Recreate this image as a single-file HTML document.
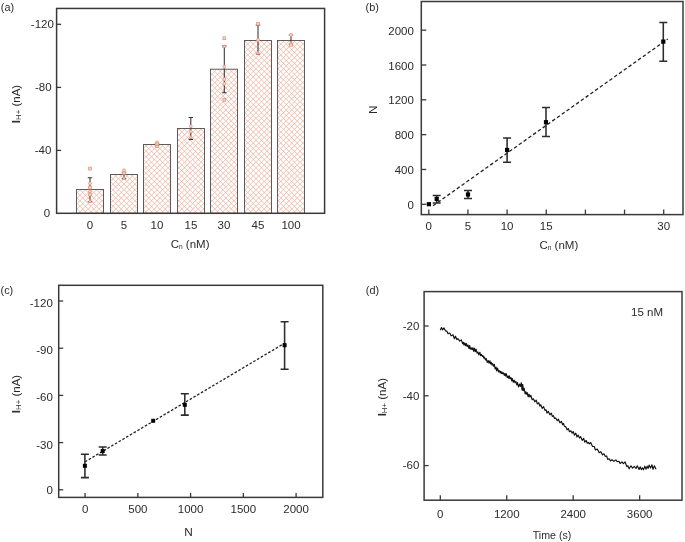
<!DOCTYPE html>
<html><head><meta charset="utf-8"><style>
html,body{margin:0;padding:0;background:#fff;}
body{width:685px;height:542px;overflow:hidden;font-family:"Liberation Sans",sans-serif;}
svg{display:block;will-change:transform;}
</style></head><body>
<svg width="685" height="542" viewBox="0 0 685 542">
<defs>
</defs>
<rect width="685" height="542" fill="#fff"/>
<g font-family="'Liberation Sans', sans-serif" fill="#2b2b2b">
<text x="0.80" y="11.20" text-anchor="start" font-size="10.9" >(a)</text>
<clipPath id="bc"><rect x="76.50" y="189.5" width="27" height="23.80"/><rect x="110.50" y="174.5" width="27" height="38.80"/><rect x="143.50" y="144.5" width="27" height="68.80"/><rect x="177.50" y="128.5" width="27" height="84.80"/><rect x="210.50" y="69.2" width="27" height="144.10"/><rect x="244.50" y="40.5" width="27" height="172.80"/><rect x="277.50" y="40.5" width="27" height="172.80"/></clipPath>
<path clip-path="url(#bc)" d="M-164.75 0L55.25 220M-164.75 0L-384.75 220M-159.25 0L60.75 220M-159.25 0L-379.25 220M-153.75 0L66.25 220M-153.75 0L-373.75 220M-148.25 0L71.75 220M-148.25 0L-368.25 220M-142.75 0L77.25 220M-142.75 0L-362.75 220M-137.25 0L82.75 220M-137.25 0L-357.25 220M-131.75 0L88.25 220M-131.75 0L-351.75 220M-126.25 0L93.75 220M-126.25 0L-346.25 220M-120.75 0L99.25 220M-120.75 0L-340.75 220M-115.25 0L104.75 220M-115.25 0L-335.25 220M-109.75 0L110.25 220M-109.75 0L-329.75 220M-104.25 0L115.75 220M-104.25 0L-324.25 220M-98.75 0L121.25 220M-98.75 0L-318.75 220M-93.25 0L126.75 220M-93.25 0L-313.25 220M-87.75 0L132.25 220M-87.75 0L-307.75 220M-82.25 0L137.75 220M-82.25 0L-302.25 220M-76.75 0L143.25 220M-76.75 0L-296.75 220M-71.25 0L148.75 220M-71.25 0L-291.25 220M-65.75 0L154.25 220M-65.75 0L-285.75 220M-60.25 0L159.75 220M-60.25 0L-280.25 220M-54.75 0L165.25 220M-54.75 0L-274.75 220M-49.25 0L170.75 220M-49.25 0L-269.25 220M-43.75 0L176.25 220M-43.75 0L-263.75 220M-38.25 0L181.75 220M-38.25 0L-258.25 220M-32.75 0L187.25 220M-32.75 0L-252.75 220M-27.25 0L192.75 220M-27.25 0L-247.25 220M-21.75 0L198.25 220M-21.75 0L-241.75 220M-16.25 0L203.75 220M-16.25 0L-236.25 220M-10.75 0L209.25 220M-10.75 0L-230.75 220M-5.25 0L214.75 220M-5.25 0L-225.25 220M0.25 0L220.25 220M0.25 0L-219.75 220M5.75 0L225.75 220M5.75 0L-214.25 220M11.25 0L231.25 220M11.25 0L-208.75 220M16.75 0L236.75 220M16.75 0L-203.25 220M22.25 0L242.25 220M22.25 0L-197.75 220M27.75 0L247.75 220M27.75 0L-192.25 220M33.25 0L253.25 220M33.25 0L-186.75 220M38.75 0L258.75 220M38.75 0L-181.25 220M44.25 0L264.25 220M44.25 0L-175.75 220M49.75 0L269.75 220M49.75 0L-170.25 220M55.25 0L275.25 220M55.25 0L-164.75 220M60.75 0L280.75 220M60.75 0L-159.25 220M66.25 0L286.25 220M66.25 0L-153.75 220M71.75 0L291.75 220M71.75 0L-148.25 220M77.25 0L297.25 220M77.25 0L-142.75 220M82.75 0L302.75 220M82.75 0L-137.25 220M88.25 0L308.25 220M88.25 0L-131.75 220M93.75 0L313.75 220M93.75 0L-126.25 220M99.25 0L319.25 220M99.25 0L-120.75 220M104.75 0L324.75 220M104.75 0L-115.25 220M110.25 0L330.25 220M110.25 0L-109.75 220M115.75 0L335.75 220M115.75 0L-104.25 220M121.25 0L341.25 220M121.25 0L-98.75 220M126.75 0L346.75 220M126.75 0L-93.25 220M132.25 0L352.25 220M132.25 0L-87.75 220M137.75 0L357.75 220M137.75 0L-82.25 220M143.25 0L363.25 220M143.25 0L-76.75 220M148.75 0L368.75 220M148.75 0L-71.25 220M154.25 0L374.25 220M154.25 0L-65.75 220M159.75 0L379.75 220M159.75 0L-60.25 220M165.25 0L385.25 220M165.25 0L-54.75 220M170.75 0L390.75 220M170.75 0L-49.25 220M176.25 0L396.25 220M176.25 0L-43.75 220M181.75 0L401.75 220M181.75 0L-38.25 220M187.25 0L407.25 220M187.25 0L-32.75 220M192.75 0L412.75 220M192.75 0L-27.25 220M198.25 0L418.25 220M198.25 0L-21.75 220M203.75 0L423.75 220M203.75 0L-16.25 220M209.25 0L429.25 220M209.25 0L-10.75 220M214.75 0L434.75 220M214.75 0L-5.25 220M220.25 0L440.25 220M220.25 0L0.25 220M225.75 0L445.75 220M225.75 0L5.75 220M231.25 0L451.25 220M231.25 0L11.25 220M236.75 0L456.75 220M236.75 0L16.75 220M242.25 0L462.25 220M242.25 0L22.25 220M247.75 0L467.75 220M247.75 0L27.75 220M253.25 0L473.25 220M253.25 0L33.25 220M258.75 0L478.75 220M258.75 0L38.75 220M264.25 0L484.25 220M264.25 0L44.25 220M269.75 0L489.75 220M269.75 0L49.75 220M275.25 0L495.25 220M275.25 0L55.25 220M280.75 0L500.75 220M280.75 0L60.75 220M286.25 0L506.25 220M286.25 0L66.25 220M291.75 0L511.75 220M291.75 0L71.75 220M297.25 0L517.25 220M297.25 0L77.25 220M302.75 0L522.75 220M302.75 0L82.75 220M308.25 0L528.25 220M308.25 0L88.25 220M313.75 0L533.75 220M313.75 0L93.75 220M319.25 0L539.25 220M319.25 0L99.25 220M324.75 0L544.75 220M324.75 0L104.75 220M330.25 0L550.25 220M330.25 0L110.25 220M335.75 0L555.75 220M335.75 0L115.75 220M341.25 0L561.25 220M341.25 0L121.25 220M346.75 0L566.75 220M346.75 0L126.75 220M352.25 0L572.25 220M352.25 0L132.25 220M357.75 0L577.75 220M357.75 0L137.75 220M363.25 0L583.25 220M363.25 0L143.25 220M368.75 0L588.75 220M368.75 0L148.75 220M374.25 0L594.25 220M374.25 0L154.25 220M379.75 0L599.75 220M379.75 0L159.75 220M385.25 0L605.25 220M385.25 0L165.25 220M390.75 0L610.75 220M390.75 0L170.75 220M396.25 0L616.25 220M396.25 0L176.25 220M401.75 0L621.75 220M401.75 0L181.75 220M407.25 0L627.25 220M407.25 0L187.25 220M412.75 0L632.75 220M412.75 0L192.75 220M418.25 0L638.25 220M418.25 0L198.25 220M423.75 0L643.75 220M423.75 0L203.75 220M429.25 0L649.25 220M429.25 0L209.25 220M434.75 0L654.75 220M434.75 0L214.75 220M440.25 0L660.25 220M440.25 0L220.25 220M445.75 0L665.75 220M445.75 0L225.75 220M451.25 0L671.25 220M451.25 0L231.25 220M456.75 0L676.75 220M456.75 0L236.75 220M462.25 0L682.25 220M462.25 0L242.25 220M467.75 0L687.75 220M467.75 0L247.75 220M473.25 0L693.25 220M473.25 0L253.25 220M478.75 0L698.75 220M478.75 0L258.75 220M484.25 0L704.25 220M484.25 0L264.25 220M489.75 0L709.75 220M489.75 0L269.75 220M495.25 0L715.25 220M495.25 0L275.25 220M500.75 0L720.75 220M500.75 0L280.75 220M506.25 0L726.25 220M506.25 0L286.25 220M511.75 0L731.75 220M511.75 0L291.75 220M517.25 0L737.25 220M517.25 0L297.25 220M522.75 0L742.75 220M522.75 0L302.75 220M528.25 0L748.25 220M528.25 0L308.25 220M533.75 0L753.75 220M533.75 0L313.75 220M539.25 0L759.25 220M539.25 0L319.25 220M544.75 0L764.75 220M544.75 0L324.75 220" stroke="#ecb6a3" stroke-width="0.85" fill="none"/>
<rect x="76.50" y="189.5" width="27" height="23.80" fill="none" stroke="#575354" stroke-width="0.95"/>
<rect x="110.50" y="174.5" width="27" height="38.80" fill="none" stroke="#575354" stroke-width="0.95"/>
<rect x="143.50" y="144.5" width="27" height="68.80" fill="none" stroke="#575354" stroke-width="0.95"/>
<rect x="177.50" y="128.5" width="27" height="84.80" fill="none" stroke="#575354" stroke-width="0.95"/>
<rect x="210.50" y="69.2" width="27" height="144.10" fill="none" stroke="#575354" stroke-width="0.95"/>
<rect x="244.50" y="40.5" width="27" height="172.80" fill="none" stroke="#575354" stroke-width="0.95"/>
<rect x="277.50" y="40.5" width="27" height="172.80" fill="none" stroke="#575354" stroke-width="0.95"/>
<path d="M90.00 177.80V201.60M87.80 177.80H92.20M87.80 201.60H92.20" stroke="#333333" stroke-width="1.05" fill="none"/>
<path d="M124.00 172.50V178.60M121.80 172.50H126.20M121.80 178.60H126.20" stroke="#333333" stroke-width="1.05" fill="none"/>
<path d="M157.00 143.20V145.80M154.80 143.20H159.20M154.80 145.80H159.20" stroke="#333333" stroke-width="1.05" fill="none"/>
<path d="M190.80 117.50V139.40M188.60 117.50H193.00M188.60 139.40H193.00" stroke="#333333" stroke-width="1.05" fill="none"/>
<path d="M224.30 46.00V92.70M222.10 46.00H226.50M222.10 92.70H226.50" stroke="#333333" stroke-width="1.05" fill="none"/>
<path d="M258.00 25.10V53.90M255.80 25.10H260.20M255.80 53.90H260.20" stroke="#333333" stroke-width="1.05" fill="none"/>
<path d="M291.00 34.90V44.10M288.80 34.90H293.20M288.80 44.10H293.20" stroke="#333333" stroke-width="1.05" fill="none"/>
<rect x="88.60" y="167.20" width="2.8" height="2.8" fill="#f6d3c6" stroke="#e59a82" stroke-width="0.8"/>
<circle cx="90.00" cy="183.50" r="1.5" fill="#f6d3c6" stroke="#e59a82" stroke-width="0.8"/>
<rect x="88.60" y="186.20" width="2.8" height="2.8" fill="#f6d3c6" stroke="#e59a82" stroke-width="0.8"/>
<circle cx="90.00" cy="191.50" r="1.5" fill="#f6d3c6" stroke="#e59a82" stroke-width="0.8"/>
<rect x="88.60" y="193.10" width="2.8" height="2.8" fill="#f6d3c6" stroke="#e59a82" stroke-width="0.8"/>
<path d="M88.30 202.30L91.70 202.30L90.00 199.40Z" fill="#f6d3c6" stroke="#e59a82" stroke-width="0.8"/>
<circle cx="124.00" cy="170.30" r="1.5" fill="#f6d3c6" stroke="#e59a82" stroke-width="0.8"/>
<rect x="122.60" y="171.40" width="2.8" height="2.8" fill="#f6d3c6" stroke="#e59a82" stroke-width="0.8"/>
<path d="M122.30 179.50L125.70 179.50L124.00 176.60Z" fill="#f6d3c6" stroke="#e59a82" stroke-width="0.8"/>
<circle cx="157.00" cy="142.40" r="1.5" fill="#f6d3c6" stroke="#e59a82" stroke-width="0.8"/>
<rect x="155.60" y="143.00" width="2.8" height="2.8" fill="#f6d3c6" stroke="#e59a82" stroke-width="0.8"/>
<path d="M155.30 147.50L158.70 147.50L157.00 144.60Z" fill="#f6d3c6" stroke="#e59a82" stroke-width="0.8"/>
<circle cx="190.80" cy="126.30" r="1.5" fill="#f6d3c6" stroke="#e59a82" stroke-width="0.8"/>
<circle cx="190.80" cy="131.50" r="1.5" fill="#f6d3c6" stroke="#e59a82" stroke-width="0.8"/>
<path d="M189.10 138.30L192.50 138.30L190.80 135.40Z" fill="#f6d3c6" stroke="#e59a82" stroke-width="0.8"/>
<rect x="222.90" y="36.80" width="2.8" height="2.8" fill="#f6d3c6" stroke="#e59a82" stroke-width="0.8"/>
<path d="M222.60 47.60L226.00 47.60L224.30 44.70Z" fill="#f6d3c6" stroke="#e59a82" stroke-width="0.8"/>
<circle cx="224.30" cy="66.70" r="1.5" fill="#f6d3c6" stroke="#e59a82" stroke-width="0.8"/>
<circle cx="224.30" cy="79.20" r="1.5" fill="#f6d3c6" stroke="#e59a82" stroke-width="0.8"/>
<circle cx="224.30" cy="83.80" r="1.5" fill="#f6d3c6" stroke="#e59a82" stroke-width="0.8"/>
<rect x="222.90" y="98.50" width="2.8" height="2.8" fill="#f6d3c6" stroke="#e59a82" stroke-width="0.8"/>
<rect x="256.60" y="22.40" width="2.8" height="2.8" fill="#f6d3c6" stroke="#e59a82" stroke-width="0.8"/>
<circle cx="258.00" cy="39.90" r="1.5" fill="#f6d3c6" stroke="#e59a82" stroke-width="0.8"/>
<path d="M256.30 53.90L259.70 53.90L258.00 51.00Z" fill="#f6d3c6" stroke="#e59a82" stroke-width="0.8"/>
<circle cx="291.00" cy="34.90" r="1.5" fill="#f6d3c6" stroke="#e59a82" stroke-width="0.8"/>
<path d="M289.30 44.30L292.70 44.30L291.00 41.40Z" fill="#f6d3c6" stroke="#e59a82" stroke-width="0.8"/>
<rect x="289.60" y="43.50" width="2.8" height="2.8" fill="#f6d3c6" stroke="#e59a82" stroke-width="0.8"/>
<rect x="56.6" y="8.45" width="268.00" height="204.85" fill="none" stroke="#3b3839" stroke-width="1.5"/>
<line x1="56.6" y1="24.30" x2="61.1" y2="24.30" stroke="#3b3839" stroke-width="1.3"/>
<line x1="56.6" y1="87.40" x2="61.1" y2="87.40" stroke="#3b3839" stroke-width="1.3"/>
<line x1="56.6" y1="150.40" x2="61.1" y2="150.40" stroke="#3b3839" stroke-width="1.3"/>
<text x="53.90" y="27.90" text-anchor="end" font-size="11.5" >-120</text>
<text x="51.60" y="91.00" text-anchor="end" font-size="11.5" >-80</text>
<text x="51.40" y="154.00" text-anchor="end" font-size="11.5" >-40</text>
<text x="50.10" y="216.90" text-anchor="end" font-size="11.5" >0</text>
<text x="90.00" y="228.90" text-anchor="middle" font-size="11.5" >0</text>
<text x="124.00" y="228.90" text-anchor="middle" font-size="11.5" >5</text>
<text x="157.00" y="228.90" text-anchor="middle" font-size="11.5" >10</text>
<text x="191.00" y="228.90" text-anchor="middle" font-size="11.5" >15</text>
<text x="224.00" y="228.90" text-anchor="middle" font-size="11.5" >30</text>
<text x="258.00" y="228.90" text-anchor="middle" font-size="11.5" >45</text>
<text x="291.00" y="228.90" text-anchor="middle" font-size="11.5" >100</text>
<text transform="translate(15.60,104.00) rotate(-90)" text-anchor="middle" font-size="11.5" y="0" dy="4"><tspan font-weight="bold">I</tspan><tspan font-size="7.8" dy="1.1">H+</tspan><tspan dy="-1.1"> (nA)</tspan></text>
<text x="170.70" y="248.20" font-size="11.5">C<tspan font-size="6.6" dy="0.5">n</tspan><tspan dy="-0.5"> (nM)</tspan></text>
<text x="365.50" y="11.20" text-anchor="start" font-size="10.9" >(b)</text>
<rect x="421.3" y="1.5" width="261.70" height="213.10" fill="none" stroke="#3b3839" stroke-width="1.5"/>
<line x1="421.3" y1="204.30" x2="426.3" y2="204.30" stroke="#3b3839" stroke-width="1.3"/>
<text x="413.90" y="208.90" text-anchor="end" font-size="11.5" >0</text>
<line x1="421.3" y1="169.47" x2="426.3" y2="169.47" stroke="#3b3839" stroke-width="1.3"/>
<text x="413.90" y="174.07" text-anchor="end" font-size="11.5" >400</text>
<line x1="421.3" y1="134.64" x2="426.3" y2="134.64" stroke="#3b3839" stroke-width="1.3"/>
<text x="413.90" y="139.24" text-anchor="end" font-size="11.5" >800</text>
<line x1="421.3" y1="99.81" x2="426.3" y2="99.81" stroke="#3b3839" stroke-width="1.3"/>
<text x="413.90" y="104.41" text-anchor="end" font-size="11.5" >1200</text>
<line x1="421.3" y1="64.98" x2="426.3" y2="64.98" stroke="#3b3839" stroke-width="1.3"/>
<text x="413.90" y="69.58" text-anchor="end" font-size="11.5" >1600</text>
<line x1="421.3" y1="30.15" x2="426.3" y2="30.15" stroke="#3b3839" stroke-width="1.3"/>
<text x="413.90" y="34.75" text-anchor="end" font-size="11.5" >2000</text>
<line x1="428.80" y1="214.6" x2="428.80" y2="209.6" stroke="#3b3839" stroke-width="1.3"/>
<text x="428.80" y="229.50" text-anchor="middle" font-size="11.5" >0</text>
<line x1="467.95" y1="214.6" x2="467.95" y2="209.6" stroke="#3b3839" stroke-width="1.3"/>
<text x="467.95" y="229.50" text-anchor="middle" font-size="11.5" >5</text>
<line x1="507.10" y1="214.6" x2="507.10" y2="209.6" stroke="#3b3839" stroke-width="1.3"/>
<text x="507.10" y="229.50" text-anchor="middle" font-size="11.5" >10</text>
<line x1="546.25" y1="214.6" x2="546.25" y2="209.6" stroke="#3b3839" stroke-width="1.3"/>
<text x="546.25" y="229.50" text-anchor="middle" font-size="11.5" >15</text>
<line x1="585.40" y1="214.6" x2="585.40" y2="209.6" stroke="#3b3839" stroke-width="1.3"/>
<line x1="624.55" y1="214.6" x2="624.55" y2="209.6" stroke="#3b3839" stroke-width="1.3"/>
<line x1="663.70" y1="214.6" x2="663.70" y2="209.6" stroke="#3b3839" stroke-width="1.3"/>
<text x="663.70" y="229.50" text-anchor="middle" font-size="11.5" >30</text>
<text transform="translate(376.6,109.7) rotate(-90)" text-anchor="middle" font-size="11.8">N</text>
<text x="539.40" y="249.30" font-size="11.5">C<tspan font-size="6.6" dy="0.5">n</tspan><tspan dy="-0.5"> (nM)</tspan></text>
<line x1="433" y1="205.8" x2="667.8" y2="39" stroke="#222" stroke-width="1.3" stroke-dasharray="3.5 2.35"/>
<path d="M436.70 195.50V202.90M432.70 195.50H440.70M432.70 202.90H440.70" stroke="#2c2c2c" stroke-width="1.55" fill="none"/>
<path d="M468.00 190.40V198.50M464.00 190.40H472.00M464.00 198.50H472.00" stroke="#2c2c2c" stroke-width="1.55" fill="none"/>
<path d="M507.10 137.90V162.30M503.10 137.90H511.10M503.10 162.30H511.10" stroke="#2c2c2c" stroke-width="1.55" fill="none"/>
<path d="M546.00 107.50V136.40M542.00 107.50H550.00M542.00 136.40H550.00" stroke="#2c2c2c" stroke-width="1.55" fill="none"/>
<path d="M663.30 22.50V61.30M659.30 22.50H667.30M659.30 61.30H667.30" stroke="#2c2c2c" stroke-width="1.55" fill="none"/>
<rect x="426.80" y="202.10" width="4.2" height="4.2" fill="#000"/>
<rect x="434.60" y="196.80" width="4.2" height="4.2" fill="#000"/>
<rect x="465.90" y="192.40" width="4.2" height="4.2" fill="#000"/>
<rect x="505.00" y="147.90" width="4.2" height="4.2" fill="#000"/>
<rect x="543.90" y="120.10" width="4.2" height="4.2" fill="#000"/>
<rect x="661.20" y="39.50" width="4.2" height="4.2" fill="#000"/>
<text x="0.50" y="294.00" text-anchor="start" font-size="10.9" >(c)</text>
<rect x="58.7" y="285.3" width="264.10" height="212.10" fill="none" stroke="#3b3839" stroke-width="1.5"/>
<line x1="58.7" y1="489.80" x2="63.2" y2="489.80" stroke="#3b3839" stroke-width="1.3"/>
<text x="52.80" y="494.20" text-anchor="end" font-size="11.5" >0</text>
<line x1="58.7" y1="442.60" x2="63.2" y2="442.60" stroke="#3b3839" stroke-width="1.3"/>
<text x="52.80" y="449.40" text-anchor="end" font-size="11.5" >-30</text>
<line x1="58.7" y1="395.40" x2="63.2" y2="395.40" stroke="#3b3839" stroke-width="1.3"/>
<text x="52.80" y="400.80" text-anchor="end" font-size="11.5" >-60</text>
<line x1="58.7" y1="348.20" x2="63.2" y2="348.20" stroke="#3b3839" stroke-width="1.3"/>
<text x="52.80" y="354.20" text-anchor="end" font-size="11.5" >-90</text>
<line x1="58.7" y1="301.00" x2="63.2" y2="301.00" stroke="#3b3839" stroke-width="1.3"/>
<text x="52.80" y="306.80" text-anchor="end" font-size="11.5" >-120</text>
<line x1="85.10" y1="497.4" x2="85.10" y2="492.9" stroke="#3b3839" stroke-width="1.3"/>
<text x="85.10" y="513.20" text-anchor="middle" font-size="11.5" >0</text>
<line x1="137.85" y1="497.4" x2="137.85" y2="492.9" stroke="#3b3839" stroke-width="1.3"/>
<text x="137.85" y="513.20" text-anchor="middle" font-size="11.5" >500</text>
<line x1="190.60" y1="497.4" x2="190.60" y2="492.9" stroke="#3b3839" stroke-width="1.3"/>
<text x="190.60" y="513.20" text-anchor="middle" font-size="11.5" >1000</text>
<line x1="243.35" y1="497.4" x2="243.35" y2="492.9" stroke="#3b3839" stroke-width="1.3"/>
<text x="243.35" y="513.20" text-anchor="middle" font-size="11.5" >1500</text>
<line x1="296.10" y1="497.4" x2="296.10" y2="492.9" stroke="#3b3839" stroke-width="1.3"/>
<text x="296.10" y="513.20" text-anchor="middle" font-size="11.5" >2000</text>
<text x="188.60" y="536.30" text-anchor="middle" font-size="11.8" >N</text>
<text transform="translate(15.60,394.00) rotate(-90)" text-anchor="middle" font-size="11.5" y="0" dy="4"><tspan font-weight="bold">I</tspan><tspan font-size="7.8" dy="1.1">H+</tspan><tspan dy="-1.1"> (nA)</tspan></text>
<line x1="85" y1="461.8" x2="284.6" y2="343.2" stroke="#222" stroke-width="1.3" stroke-dasharray="2.6 1.75"/>
<path d="M84.90 454.20V477.60M80.90 454.20H88.90M80.90 477.60H88.90" stroke="#2c2c2c" stroke-width="1.55" fill="none"/>
<path d="M102.70 446.90V455.00M98.70 446.90H106.70M98.70 455.00H106.70" stroke="#2c2c2c" stroke-width="1.55" fill="none"/>
<path d="M184.80 393.80V415.10M180.80 393.80H188.80M180.80 415.10H188.80" stroke="#2c2c2c" stroke-width="1.55" fill="none"/>
<path d="M284.60 321.80V369.30M280.60 321.80H288.60M280.60 369.30H288.60" stroke="#2c2c2c" stroke-width="1.55" fill="none"/>
<rect x="82.90" y="463.80" width="4.0" height="4.0" fill="#000"/>
<rect x="100.70" y="449.00" width="4.0" height="4.0" fill="#000"/>
<rect x="151.20" y="418.80" width="4.0" height="4.0" fill="#000"/>
<rect x="182.80" y="402.80" width="4.0" height="4.0" fill="#000"/>
<rect x="282.60" y="343.20" width="4.0" height="4.0" fill="#000"/>
<text x="365.80" y="294.00" text-anchor="start" font-size="10.9" >(d)</text>
<rect x="424.1" y="291.6" width="257.90" height="208.60" fill="none" stroke="#3b3839" stroke-width="1.5"/>
<line x1="424.1" y1="326.00" x2="428.6" y2="326.00" stroke="#3b3839" stroke-width="1.3"/>
<text x="419.40" y="329.80" text-anchor="end" font-size="11.5" >-20</text>
<line x1="424.1" y1="395.80" x2="428.6" y2="395.80" stroke="#3b3839" stroke-width="1.3"/>
<text x="419.40" y="399.60" text-anchor="end" font-size="11.5" >-40</text>
<line x1="424.1" y1="465.60" x2="428.6" y2="465.60" stroke="#3b3839" stroke-width="1.3"/>
<text x="419.40" y="469.40" text-anchor="end" font-size="11.5" >-60</text>
<line x1="440.30" y1="500.2" x2="440.30" y2="495.2" stroke="#3b3839" stroke-width="1.3"/>
<text x="440.30" y="517.50" text-anchor="middle" font-size="11.5" >0</text>
<line x1="506.75" y1="500.2" x2="506.75" y2="495.2" stroke="#3b3839" stroke-width="1.3"/>
<text x="506.75" y="517.50" text-anchor="middle" font-size="11.5" >1200</text>
<line x1="573.20" y1="500.2" x2="573.20" y2="495.2" stroke="#3b3839" stroke-width="1.3"/>
<text x="573.20" y="517.50" text-anchor="middle" font-size="11.5" >2400</text>
<line x1="639.65" y1="500.2" x2="639.65" y2="495.2" stroke="#3b3839" stroke-width="1.3"/>
<text x="639.65" y="517.50" text-anchor="middle" font-size="11.5" >3600</text>
<text x="532.70" y="539.00" text-anchor="start" font-size="11.5" textLength="38.6" lengthAdjust="spacingAndGlyphs">Time (s)</text>
<text x="631.00" y="316.00" text-anchor="start" font-size="11.5" >15 nM</text>
<text transform="translate(382.30,397.20) rotate(-90)" text-anchor="middle" font-size="11.5" y="0" dy="4"><tspan font-weight="bold">I</tspan><tspan font-size="7.8" dy="1.1">H+</tspan><tspan dy="-1.1"> (nA)</tspan></text>
<polyline points="440.30,330.17 441.49,327.56 442.60,329.87 443.98,327.89 445.49,330.82 446.93,331.17 448.06,333.71 449.85,332.98 451.10,335.87 453.01,334.70 454.41,338.77 455.51,336.20 456.82,339.54 457.97,338.67 459.76,341.14 461.33,339.91 462.72,343.76 463.31,342.23 463.96,345.00 464.73,342.93 465.57,345.78 466.27,343.33 467.17,346.62 468.01,344.90 468.99,348.53 469.68,345.46 470.30,349.08 471.22,347.74 472.02,349.70 472.90,347.67 473.73,351.35 474.45,348.20 475.29,351.74 476.07,349.21 477.08,353.17 477.96,352.00 478.86,354.87 479.90,352.27 480.59,355.58 481.47,354.35 482.25,356.40 482.87,355.53 483.80,358.17 484.48,357.10 485.46,360.03 486.23,358.59 487.22,362.46 488.19,360.48 488.95,363.19 489.93,360.78 490.57,363.82 491.24,362.29 492.03,365.03 492.72,363.54 493.48,366.22 494.31,364.45 495.20,369.04 496.06,367.13 496.64,371.03 497.58,368.13 498.52,371.90 499.27,370.64 500.14,372.68 500.73,371.34 501.37,373.54 501.95,372.08 502.59,373.70 503.32,372.74 504.30,375.40 504.93,373.34 505.66,376.04 506.28,373.70 507.31,377.59 508.11,376.10 508.71,378.25 509.40,375.86 510.04,378.77 511.06,377.68 511.69,380.88 512.26,378.50 513.29,382.25 514.18,380.16 514.92,382.68 515.85,381.48 516.78,384.79 517.45,382.66 518.48,386.97 519.43,384.08 520.35,386.43 521.15,384.24 521.73,386.15 522.42,385.92 523.31,390.58 524.09,388.21 525.12,393.83 525.86,391.77 526.53,394.26 527.19,392.60 528.18,396.84 528.97,394.19 529.91,397.03 530.79,395.24 532.19,399.73 533.38,398.81 534.78,401.85 536.20,400.23 537.33,403.95 538.85,402.83 539.81,406.06 540.76,404.73 542.18,408.36 543.61,406.73 544.93,410.39 546.16,409.79 547.01,413.05 548.32,411.26 549.83,414.74 551.30,413.15 552.29,416.40 553.34,415.67 554.61,418.55 555.75,417.95 557.24,420.68 558.41,419.21 559.90,422.69 561.40,421.48 562.63,424.77 563.48,423.41 564.45,426.36 565.87,426.74 567.05,429.91 568.29,428.51 569.50,431.69 570.91,430.77 572.15,433.12 573.19,431.51 574.40,435.12 575.78,433.12 576.94,436.96 578.15,435.10 579.48,438.09 580.71,436.72 582.23,440.36 583.70,438.30 584.72,442.10 586.24,440.49 587.18,443.28 588.34,442.37 589.35,443.95 590.68,442.49 592.53,446.53 594.23,446.55 595.41,450.01 597.33,449.02 599.23,452.67 600.72,451.64 602.52,454.88 603.96,453.74 605.32,456.49 606.65,455.95 607.72,459.38 609.17,458.72 610.51,460.92 612.03,459.69 613.96,461.32 615.89,459.91 617.18,461.78 618.93,461.25 620.09,463.48 621.96,461.84 623.25,463.66 625.12,461.97 626.80,466.66 627.83,465.75 629.17,468.83 630.94,465.78 632.59,468.14 634.29,466.32 636.00,468.51 637.26,465.80 639.02,469.45 640.11,466.85 641.29,469.56 642.40,467.89 643.55,469.82 644.79,466.09 646.01,469.17 647.14,466.16 648.14,468.42 649.13,465.13 650.57,468.01 651.95,464.82 653.02,469.29 654.36,465.75 656.05,469.33" fill="none" stroke="#111" stroke-width="1.15" stroke-linejoin="round"/>
<path d="M520.5 386L521.4 382.5L522 390.5L522.7 384L523.3 391" fill="none" stroke="#111" stroke-width="1.1"/>
</g></svg>
</body></html>
